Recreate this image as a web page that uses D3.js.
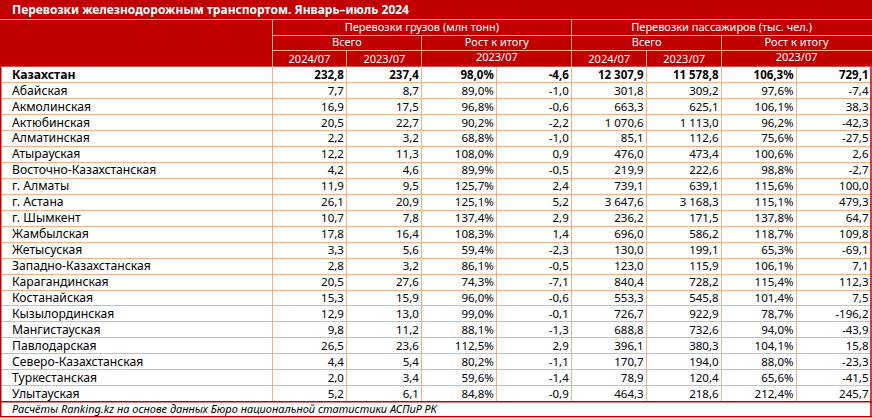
<!DOCTYPE html>
<html><head><meta charset="utf-8">
<script src="https://cdn.jsdelivr.net/npm/d3@7"></script>
<style>
html,body{margin:0;padding:0;background:#fff;}
svg{display:block;font-family:"Noto Sans",sans-serif;}
</style></head>
<body>
<svg id="chart" width="872" height="419"></svg>
<script>
const title = "Перевозки железнодорожным транспортом. Январь–июль 2024";
const footnote = "Расчёты Ranking.kz на основе данных Бюро национальной статистики АСПиР РК";
const groupHeaders = ["Перевозки грузов (млн тонн)", "Перевозки пассажиров (тыс. чел.)"];
const subHeaders = ["Всего", "Рост к итогу"];
const periodHeaders = ["2024/07", "2023/07", "2023/07"];

const regions = ["Казахстан","Абайская","Акмолинская","Актюбинская","Алматинская","Атырауская","Восточно-Казахстанская","г. Алматы","г. Астана","г. Шымкент","Жамбылская","Жетысуская","Западно-Казахстанская","Карагандинская","Костанайская","Кызылординская","Мангистауская","Павлодарская","Северо-Казахстанская","Туркестанская","Улытауская"];
const cargo2024 = [232.8,7.7,16.9,20.5,2.2,12.2,4.2,11.9,26.1,10.7,17.8,3.3,2.8,20.5,15.3,12.9,9.8,26.5,4.4,2.0,5.2];
const cargo2023 = [237.4,8.7,17.5,22.7,3.2,11.3,4.6,9.5,20.9,7.8,16.4,5.6,3.2,27.6,15.9,13.0,11.2,23.6,5.4,3.4,6.1];
const cargoGrowth = [98.0,89.0,96.8,90.2,68.8,108.0,89.9,125.7,125.1,137.4,108.3,59.4,86.1,74.3,96.0,99.0,88.1,112.5,80.2,59.6,84.8];
const cargoDiff = [-4.6,-1.0,-0.6,-2.2,-1.0,0.9,-0.5,2.4,5.2,2.9,1.4,-2.3,-0.5,-7.1,-0.6,-0.1,-1.3,2.9,-1.1,-1.4,-0.9];
const pass2024 = [12307.9,301.8,663.3,1070.6,85.1,476.0,219.9,739.1,3647.6,236.2,696.0,130.0,123.0,840.4,553.3,726.7,688.8,396.1,170.7,78.9,464.3];
const pass2023 = [11578.8,309.2,625.1,1113.0,112.6,473.4,222.6,639.1,3168.3,171.5,586.2,199.1,115.9,728.2,545.8,922.9,732.6,380.3,194.0,120.4,218.6];
const passGrowth = [106.3,97.6,106.1,96.2,75.6,100.6,98.8,115.6,115.1,137.8,118.7,65.3,106.1,115.4,101.4,78.7,94.0,104.1,88.0,65.6,212.4];
const passDiff = [729.1,-7.4,38.3,-42.3,-27.5,2.6,-2.7,100.0,479.3,64.7,109.8,-69.1,7.1,112.3,7.5,-196.2,-43.9,15.8,-23.3,-41.5,245.7];

const RED = "#C00000", LINE = "#F4B183";
const W = 872;
const svg = d3.select("#chart");
const loc = d3.formatLocale({decimal: ",", thousands: "\u00a0", grouping: [3], currency: ["", ""], minus: "-"});
const fNum = loc.format(",.1f");
const fPct = v => loc.format(".1f")(v) + "%";

const columns = [
  {vals: cargo2024, f: fNum}, {vals: cargo2023, f: fNum},
  {vals: cargoGrowth, f: fPct}, {vals: cargoDiff, f: fNum},
  {vals: pass2024, f: fNum}, {vals: pass2023, f: fNum},
  {vals: passGrowth, f: fPct}, {vals: passDiff, f: fNum}
];

const x0 = 272, xEnd = 871.5;
const x = d3.scaleLinear().domain([0, 8]).range([x0, xEnd]);
const titleH = 19.3, hRow = 15.8;
const yHead = d3.scaleLinear().domain([0, 3]).range([titleH, titleH + 3 * hRow]);
const dataTop = yHead(3), dataBottom = 401.7;
const y = d3.scaleLinear().domain([0, regions.length]).range([dataTop, dataBottom]);
const footBottom = 416.7;

svg.append("rect").attr("x", 0).attr("y", 0).attr("width", W).attr("height", dataTop).attr("fill", RED);

svg.append("text").attr("x", 12).attr("y", 14).attr("fill", "#fff")
  .attr("font-size", 12).attr("font-weight", "bold").text(title);

const hl = svg.append("g").attr("stroke", LINE).attr("stroke-width", 1).attr("shape-rendering", "crispEdges");
hl.append("line").attr("x1", 0).attr("x2", W).attr("y1", titleH).attr("y2", titleH);
[1, 2].forEach(i => hl.append("line").attr("x1", x0).attr("x2", xEnd).attr("y1", yHead(i)).attr("y2", yHead(i)));
hl.append("line").attr("x1", x(0)).attr("x2", x(0)).attr("y1", titleH).attr("y2", dataTop);
hl.append("line").attr("x1", x(4)).attr("x2", x(4)).attr("y1", titleH).attr("y2", dataTop);
[2, 6].forEach(c => hl.append("line").attr("x1", x(c)).attr("x2", x(c)).attr("y1", yHead(1)).attr("y2", dataTop));
[1, 5].forEach(c => hl.append("line").attr("x1", x(c)).attr("x2", x(c)).attr("y1", yHead(2)).attr("y2", dataTop));

const ht = svg.append("g").attr("fill", "#fff").attr("font-size", 11).attr("text-anchor", "middle");
groupHeaders.forEach((t, g) => ht.append("text").attr("x", x(g * 4 + 2)).attr("y", yHead(1) - 4.5).text(t));
[0, 1].forEach(g => subHeaders.forEach((t, s) =>
  ht.append("text").attr("x", x(g * 4 + s * 2 + 1)).attr("y", yHead(2) - 4.5).text(t)));
[0, 1].forEach(g => {
  ht.append("text").attr("x", x(g * 4 + 0.5)).attr("y", yHead(3) - 4).text(periodHeaders[0]);
  ht.append("text").attr("x", x(g * 4 + 1.5)).attr("y", yHead(3) - 4).text(periodHeaders[1]);
  ht.append("text").attr("x", x(g * 4 + 3)).attr("y", yHead(3) - 5.5).text(periodHeaders[2]);
});

const gl = svg.append("g").attr("stroke", LINE).attr("stroke-width", 1).attr("shape-rendering", "crispEdges");
d3.range(1, regions.length).forEach(i =>
  gl.append("line").attr("x1", 0).attr("x2", W).attr("y1", y(i)).attr("y2", y(i)));
d3.range(0, 8).forEach(c =>
  gl.append("line").attr("x1", x(c)).attr("x2", x(c)).attr("y1", dataTop).attr("y2", dataBottom));

const dt = svg.append("g").attr("fill", "#000");
regions.forEach((r, i) => {
  const bold = i === 0 ? "bold" : "normal";
  dt.append("text").attr("x", 12).attr("y", y(i + 1) - 4).attr("font-size", 12.2)
    .attr("font-weight", bold).text(r);
  columns.forEach((c, j) => {
    dt.append("text").attr("x", x(j + 1) - 3).attr("y", y(i + 1) - 4).attr("font-size", 11.5)
      .attr("text-anchor", "end").attr("font-weight", bold).text(c.f(c.vals[i]));
  });
});

svg.append("text").attr("x", 12).attr("y", footBottom - 4).attr("font-size", 11)
  .attr("font-style", "italic").attr("fill", "#000").text(footnote);

const rb = svg.append("g").attr("stroke", RED).attr("stroke-width", 1.5).attr("fill", "none");
rb.append("line").attr("x1", 0.75).attr("x2", 0.75).attr("y1", dataTop).attr("y2", footBottom);
rb.append("line").attr("x1", 871).attr("x2", 871).attr("y1", dataTop).attr("y2", footBottom);
rb.append("line").attr("x1", 0).attr("x2", W).attr("y1", dataBottom).attr("y2", dataBottom);
rb.append("line").attr("x1", 0).attr("x2", W).attr("y1", footBottom).attr("y2", footBottom);
</script>
</body></html>
